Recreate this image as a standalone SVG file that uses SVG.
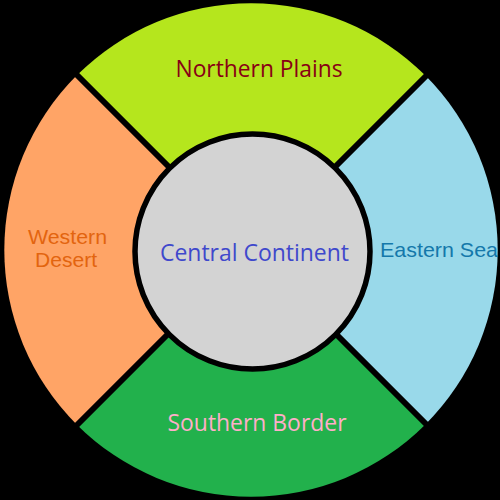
<svg xmlns="http://www.w3.org/2000/svg" width="500" height="500" viewBox="0 0 500 500">
<style>
.seg{stroke:none}
.sep{stroke:#000;stroke-width:6;fill:none}
.seg-text{font-family:"Open Sans","Noto Sans",sans-serif;font-size:23px;text-anchor:middle}
.side-text{font-family:"Liberation Sans",Arial,sans-serif;font-size:21px;text-anchor:middle}
</style>
<rect width="500" height="500" fill="#000"/>
<g id="northern-plains">
<path class="seg" d="M251,250 L76.6,75.6 A246.5,246.5 0 0 1 425.4,75.6 Z" fill="#B5E61D"/>
<text class="seg-text" x="259" y="77" fill="#880015" textLength="167" lengthAdjust="spacingAndGlyphs">Northern Plains</text>
</g>
<g id="eastern-sea">
<path class="seg" d="M251,250 L425.4,75.6 A246.5,246.5 0 0 1 425.4,424.4 Z" fill="#99D9EA"/>
<text class="side-text" x="439" y="257" fill="#1478AA" textLength="118" lengthAdjust="spacingAndGlyphs">Eastern Sea</text>
</g>
<g id="southern-border">
<path class="seg" d="M251,250 L425.4,424.4 A246.5,246.5 0 0 1 76.6,424.4 Z" fill="#22B14C"/>
<text class="seg-text" x="257" y="431" fill="#FFAEC9" textLength="179" lengthAdjust="spacingAndGlyphs">Southern Border</text>
</g>
<g id="western-desert">
<path class="seg" d="M251,250 L76.6,424.4 A246.5,246.5 0 0 1 76.6,75.6 Z" fill="#FFA466"/>
<text class="side-text" x="67.5" y="244" fill="#E3640F" textLength="79" lengthAdjust="spacingAndGlyphs">Western</text>
<text class="side-text" x="66" y="267" fill="#E3640F" textLength="62" lengthAdjust="spacingAndGlyphs">Desert</text>
</g>
<g id="connectors">
<line class="sep" x1="252" y1="250" x2="60" y2="58"/>
<line class="sep" x1="252" y1="250" x2="444" y2="58"/>
<line class="sep" x1="252" y1="250" x2="444" y2="442"/>
<line class="sep" x1="252" y1="250" x2="60" y2="442"/>
</g>
<g id="central-continent">
<circle cx="252.5" cy="251.5" r="117.5" fill="#D3D3D3" stroke="#000" stroke-width="5.5"/>
<text class="seg-text" x="254.5" y="261" fill="#3F48CC" textLength="189" lengthAdjust="spacingAndGlyphs">Central Continent</text>
</g>
</svg>
